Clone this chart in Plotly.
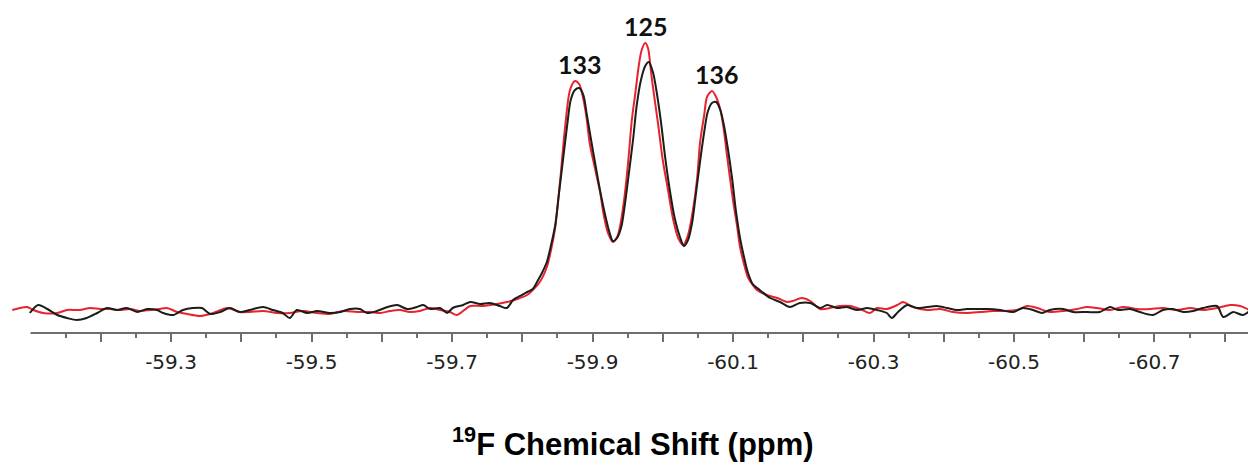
import plotly.graph_objects as go

# ---- data (ppm, intensity in arbitrary units) ----
red_ppm = [-59.074, -59.095, -59.104, -59.118, -59.138, -59.152, -59.170, -59.185, -59.199, -59.213,
           -59.227, -59.242, -59.256, -59.270, -59.284, -59.294, -59.309, -59.323, -59.341, -59.360,
           -59.380, -59.398, -59.412, -59.431, -59.451, -59.469, -59.488, -59.508, -59.526, -59.545,
           -59.565, -59.583, -59.598, -59.612, -59.626, -59.640, -59.654, -59.669, -59.683, -59.697,
           -59.707, -59.726, -59.744, -59.764, -59.778, -59.793, -59.807, -59.815, -59.825, -59.835,
           -59.841, -59.847, -59.854, -59.861, -59.868, -59.875, -59.881, -59.885, -59.891, -59.896,
           -59.904, -59.911, -59.916, -59.922, -59.929, -59.935, -59.939, -59.945, -59.951, -59.956,
           -59.961, -59.966, -59.970, -59.975, -59.979, -59.983, -59.986, -59.993, -60.000, -60.008,
           -60.015, -60.022, -60.029, -60.036, -60.043, -60.049, -60.053, -60.059, -60.063, -60.070,
           -60.076, -60.082, -60.087, -60.091, -60.100, -60.106, -60.110, -60.116, -60.121, -60.128,
           -60.134, -60.148, -60.163, -60.177, -60.185, -60.198, -60.210, -60.224, -60.238, -60.252,
           -60.267, -60.281, -60.295, -60.305, -60.319, -60.334, -60.342, -60.356, -60.376, -60.395,
           -60.413, -60.433, -60.452, -60.470, -60.484, -60.504, -60.519, -60.533, -60.551, -60.570,
           -60.590, -60.604, -60.618, -60.637, -60.655, -60.675, -60.694, -60.712, -60.732, -60.751,
           -60.769, -60.789, -60.808, -60.822, -60.836, -60.847]
red_int = [5, 8, 5, 2, 2, 5, 5, 7, 6, 6,
           5, 6, 4, 5, 6, 7, 3, 1, -1, 2,
           7, 3, 3, 4, 2, 2, 4, 2, 1, 4,
           3, 3, 2, 4, 5, 3, 4, 7, 5, 3,
           0, 9, 9, 11, 13, 16, 20, 25, 33, 48,
           65, 88, 135, 188, 225, 234, 231, 222, 200, 172,
           145, 122, 100, 82, 73, 78, 88, 115, 155, 195,
           222, 250, 265, 272, 267, 245, 228, 193, 155, 123,
           95, 77, 70, 80, 105, 137, 172, 200, 218, 224,
           218, 205, 185, 162, 115, 88, 68, 50, 38, 30,
           25, 20, 17, 13, 14, 17, 14, 6, 7, 9,
           9, 6, 2, 7, 6, 10, 13, 8, 5, 6,
           3, 2, 3, 4, 4, 5, 9, 7, 3, 4,
           6, 8, 7, 5, 8, 6, 6, 7, 5, 7,
           5, 7, 10, 9, 5, 5]

black_ppm = [-59.099, -59.111, -59.124, -59.138, -59.152, -59.166, -59.180, -59.195, -59.209, -59.223,
             -59.237, -59.252, -59.266, -59.280, -59.289, -59.303, -59.317, -59.331, -59.344, -59.356,
             -59.370, -59.384, -59.398, -59.412, -59.431, -59.445, -59.459, -59.469, -59.479, -59.494,
             -59.508, -59.526, -59.541, -59.555, -59.569, -59.579, -59.593, -59.608, -59.622, -59.636,
             -59.650, -59.659, -59.669, -59.683, -59.693, -59.701, -59.716, -59.726, -59.740, -59.754,
             -59.768, -59.778, -59.787, -59.794, -59.807, -59.815, -59.821, -59.828, -59.835, -59.841,
             -59.847, -59.852, -59.858, -59.864, -59.869, -59.875, -59.881, -59.887, -59.892, -59.898,
             -59.905, -59.912, -59.918, -59.924, -59.929, -59.935, -59.941, -59.946, -59.952, -59.958,
             -59.963, -59.969, -59.975, -59.980, -59.986, -59.992, -59.998, -60.003, -60.010, -60.017,
             -60.025, -60.030, -60.036, -60.042, -60.047, -60.053, -60.059, -60.064, -60.070, -60.076,
             -60.082, -60.087, -60.093, -60.099, -60.104, -60.110, -60.116, -60.121, -60.128, -60.138,
             -60.153, -60.167, -60.181, -60.195, -60.210, -60.224, -60.234, -60.248, -60.262, -60.277,
             -60.291, -60.305, -60.319, -60.326, -60.335, -60.348, -60.362, -60.376, -60.390, -60.405,
             -60.419, -60.433, -60.447, -60.462, -60.480, -60.499, -60.513, -60.527, -60.540, -60.551,
             -60.570, -60.584, -60.604, -60.622, -60.637, -60.648, -60.665, -60.679, -60.698, -60.712,
             -60.726, -60.741, -60.755, -60.769, -60.789, -60.798, -60.812, -60.826, -60.840, -60.850]
black_int = [2, 10, 6, 0, -3, -5, -3, 2, 7, 5,
             7, 3, 6, 5, 2, 0, 5, 7, 7, 1,
             3, 7, 3, 5, 8, 5, 2, -3, 5, 2,
             4, 2, 3, 6, 6, 2, 4, 8, 10, 6,
             8, 10, 6, 7, 2, 7, 10, 13, 11, 12,
             9, 7, 15, 18, 23, 26, 33, 42, 53, 70,
             90, 120, 155, 190, 215, 225, 227, 220, 200, 175,
             147, 120, 100, 83, 74, 77, 88, 110, 143, 177,
             210, 235, 249, 253, 243, 220, 190, 160, 125, 97,
             77, 69, 75, 93, 120, 153, 183, 203, 212, 213,
             205, 190, 165, 135, 105, 77, 57, 43, 31, 25,
             17, 13, 8, 12, 12, 7, 10, 7, 8, 5,
             7, 5, 2, -3, 3, 10, 7, 8, 9, 7,
             5, 6, 6, 6, 5, 3, 7, 5, 2, 5,
             6, 3, 3, 3, 8, 5, 6, 3, 0, 5,
             6, 3, 4, 7, 9, -2, 3, 0, 6, 8]

peak_labels = ["133", "125", "136"]
peak_label_ppm = [-59.882, -59.976, -60.077]
peak_label_int = [234, 272, 224]

major_ticks = [-59.2, -59.3, -59.4, -59.5, -59.6, -59.7, -59.8, -59.9, -60.0,
               -60.1, -60.2, -60.3, -60.4, -60.5, -60.6, -60.7, -60.8]
major_text = ["", "-59.3", "", "-59.5", "", "-59.7", "", "-59.9", "",
              "-60.1", "", "-60.3", "", "-60.5", "", "-60.7", ""]
minor_ticks = [-59.15, -59.25, -59.35, -59.45, -59.55, -59.65, -59.75, -59.85, -59.95,
               -60.05, -60.15, -60.25, -60.35, -60.45, -60.55, -60.65, -60.75]

RED = "#e8232d"
BLACK = "#1b1d1b"

fig = go.Figure()
fig.add_trace(go.Scatter(x=red_ppm, y=red_int, mode="lines",
                         line=dict(color=RED, width=2, shape="spline", smoothing=0.8),
                         showlegend=False, hoverinfo="skip"))
fig.add_trace(go.Scatter(x=black_ppm, y=black_int, mode="lines",
                         line=dict(color=BLACK, width=2, shape="spline", smoothing=0.8),
                         showlegend=False, hoverinfo="skip"))

for t, px, py in zip(peak_labels, peak_label_ppm, peak_label_int):
    fig.add_annotation(x=px, y=py, xref="x", yref="y", text="<b>%s</b>" % t,
                       showarrow=False, yanchor="bottom", xanchor="center", yshift=0,
                       font=dict(family="Lato", size=25, color="#111111"))

# x-axis title
fig.add_annotation(x=0.5, y=-0.337, xref="paper", yref="paper",
                   text="<b><sup>19</sup>F Chemical Shift (ppm)</b>",
                   showarrow=False, xanchor="center", yanchor="middle",
                   font=dict(family="Liberation Sans", size=31, color="#000000"))

# axis line starting at -59.1
fig.add_shape(type="line", xref="x", yref="paper", x0=-59.1, x1=-60.8445, y0=0, y1=0,
              line=dict(color="#6e6e6e", width=2))

# the page body adds an 8 px offset; margins compensate so the plot lands where the reference has it
fig.update_layout(
    width=1256, height=464,
    margin=dict(l=2, r=8, t=2, b=139),
    paper_bgcolor="white", plot_bgcolor="white",
    xaxis=dict(range=[-59.0708, -60.8445], showgrid=False, zeroline=False, showline=False,
               tickmode="array", tickvals=major_ticks, ticktext=major_text,
               ticks="outside", ticklen=8, tickwidth=1.5, tickcolor="#6e6e6e",
               ticklabelstandoff=3,
               tickfont=dict(family="DejaVu Sans", size=20, color="#222222"),
               minor=dict(tickmode="array", tickvals=minor_ticks, ticks="outside",
                          ticklen=4, tickwidth=1.5, tickcolor="#6e6e6e", showgrid=False)),
    yaxis=dict(range=[-18, 305], visible=False, showgrid=False, zeroline=False),
)

fig.write_html("out.html")
